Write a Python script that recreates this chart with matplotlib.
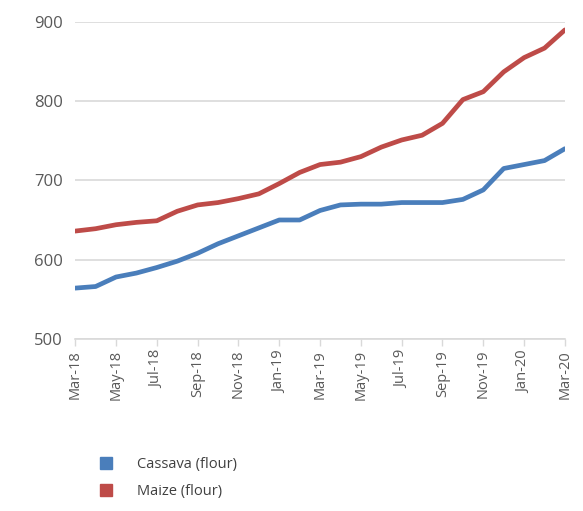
import numpy as np
import matplotlib.pyplot as plt
from matplotlib.lines import Line2D

months = ['Mar-18', 'Apr-18', 'May-18', 'Jun-18', 'Jul-18', 'Aug-18', 'Sep-18', 'Oct-18', 'Nov-18',
          'Dec-18', 'Jan-19', 'Feb-19', 'Mar-19', 'Apr-19', 'May-19', 'Jun-19', 'Jul-19', 'Aug-19',
          'Sep-19', 'Oct-19', 'Nov-19', 'Dec-19', 'Jan-20', 'Feb-20', 'Mar-20']
cassava = [564, 566, 578, 583, 590, 598, 608, 620, 630, 640, 650, 650, 662,
           669, 670, 670, 672, 672, 672, 676, 688, 715, 720, 725, 740]
maize = [636, 639, 644, 647, 649, 661, 669, 672, 677, 683, 696, 710, 720,
         723, 730, 742, 751, 757, 772, 802, 812, 837, 855, 867, 890]
series_names = ['Cassava (flour)', 'Maize (flour)']

BLUE = '#4a7ebb'
RED = '#be4b48'
GREY = '#595959'

plt.rcParams['font.family'] = ['Open Sans', 'DejaVu Sans']

fig = plt.figure(figsize=(5.83, 5.11), dpi=100)
ax = fig.add_axes([0.129, 0.337, 0.840, 0.620])

x = np.arange(len(months))
ax.plot(x, cassava, color=BLUE, lw=3.4, solid_capstyle='round', solid_joinstyle='round')
ax.plot(x, maize, color=RED, lw=3.4, solid_capstyle='round', solid_joinstyle='round')

ax.set_xlim(0, len(months) - 1)
ax.set_ylim(500, 900)
ax.set_yticks([500, 600, 700, 800, 900])
ax.set_xticks(x[::2])
ax.set_xticklabels(months[::2], rotation=90)
ax.grid(axis='y', color='#d9d9d9', lw=1.2)
ax.set_axisbelow(True)
for s in ['top', 'right', 'left']:
    ax.spines[s].set_visible(False)
ax.spines['bottom'].set_color('#d9d9d9')
ax.spines['bottom'].set_linewidth(1.2)
ax.tick_params(axis='y', length=0, pad=9, labelsize=12, labelcolor=GREY)
ax.tick_params(axis='x', length=5, color='#d9d9d9', width=1, pad=3, labelsize=10.5, labelcolor=GREY)

handles = [Line2D([], [], marker='s', ls='', color=BLUE, markersize=8),
           Line2D([], [], marker='s', ls='', color=RED, markersize=8)]
fig.legend(handles, series_names, loc='upper left', bbox_to_anchor=(0.147, 0.117),
           frameon=False, fontsize=10.5, labelcolor='#404040', handletextpad=1.1,
           labelspacing=0.85, borderaxespad=0)

fig.savefig('out.png', dpi=100)
